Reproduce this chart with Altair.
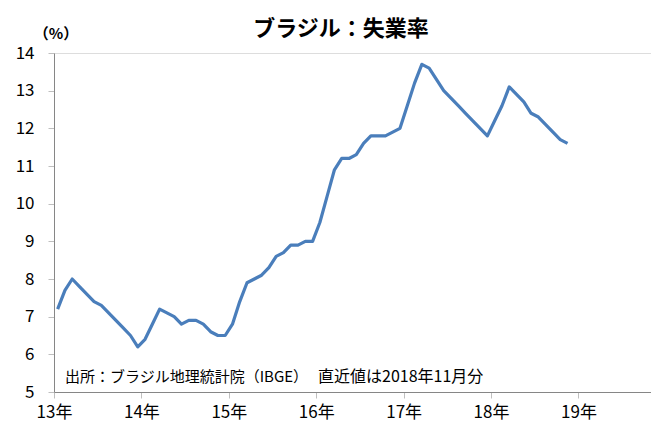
import altair as alt
import pandas as pd

# Monthly unemployment rate (%), Jan 2013 - Nov 2018
years = [2013] * 12 + [2014] * 12 + [2015] * 12 + [2016] * 12 + [2017] * 12 + [2018] * 11
months = list(range(1, 13)) * 5 + list(range(1, 12))
rates = [
    7.2, 7.7, 8.0, 7.8, 7.6, 7.4, 7.3, 7.1, 6.9, 6.7, 6.5, 6.2,
    6.4, 6.8, 7.2, 7.1, 7.0, 6.8, 6.9, 6.9, 6.8, 6.6, 6.5, 6.5,
    6.8, 7.4, 7.9, 8.0, 8.1, 8.3, 8.6, 8.7, 8.9, 8.9, 9.0, 9.0,
    9.5, 10.2, 10.9, 11.2, 11.2, 11.3, 11.6, 11.8, 11.8, 11.8, 11.9, 12.0,
    12.6, 13.2, 13.7, 13.6, 13.3, 13.0, 12.8, 12.6, 12.4, 12.2, 12.0, 11.8,
    12.2, 12.6, 13.1, 12.9, 12.7, 12.4, 12.3, 12.1, 11.9, 11.7, 11.6,
]
year_ticks = [0, 1, 2, 3, 4, 5, 6]
year_labels = ["13年", "14年", "15年", "16年", "17年", "18年", "19年"]
y_ticks = [5, 6, 7, 8, 9, 10, 11, 12, 13, 14]

title_text = "ブラジル：失業率"
unit_text = "（%）"
source_text = "出所：ブラジル地理統計院（IBGE）"
latest_text = "直近値は2018年11月分"

df = pd.DataFrame({"year": years, "month": months, "rate": rates})
df["t"] = (df["year"] - 2013) + (df["month"] - 0.5) / 12.0

FONT = "Noto Sans CJK JP"
W, H = 597, 339
XMAX = 6.83

label_map = "{" + ",".join(f"'{v}':'{l}'" for v, l in zip(year_ticks, year_labels)) + "}"

x_enc = alt.X(
    "t:Q",
    scale=alt.Scale(domain=[0, XMAX], nice=False, zero=False),
    axis=alt.Axis(
        values=year_ticks,
        labelExpr=f"{label_map}[datum.value]",
        title=None,
        grid=False,
        domainColor="#868686",
        domainWidth=1,
        tickColor="#BFBFBF",
        tickSize=6,
        labelFont=FONT,
        labelFontSize=17,
        labelColor="#000000",
        labelPadding=6,
        labelFlush=False,
        labelOverlap=False,
    ),
)
y_enc = alt.Y(
    "rate:Q",
    scale=alt.Scale(domain=[5, 14], nice=False, zero=False),
    axis=alt.Axis(
        values=y_ticks,
        title=None,
        grid=False,
        domainColor="#868686",
        domainWidth=1,
        tickColor="#BFBFBF",
        tickSize=6,
        labelFont=FONT,
        labelFontSize=17,
        labelColor="#000000",
        labelPadding=14,
        labelFlush=False,
        labelOverlap=False,
    ),
)

line = alt.Chart(df).mark_line(color="#4A7EBB", strokeWidth=3.2, strokeJoin="round").encode(
    x=x_enc, y=y_enc
)

def txt(text, x, y, size, weight="normal", align="left"):
    return alt.Chart(pd.DataFrame({"s": [text]})).mark_text(
        font=FONT, fontSize=size, fontWeight=weight, align=align, baseline="middle", color="#000000"
    ).encode(text="s:N", x=alt.value(x), y=alt.value(y))

title = txt(title_text, 287, -24, 22, "bold", "center")
unit = txt(unit_text, 2, -19, 15, "bold", "center")
source = txt(source_text, 11, 324, 15)
latest = txt(latest_text, 264, 324, 16)

chart = alt.layer(line, title, unit, source, latest).properties(
    width=W,
    height=H,
    autosize=alt.AutoSizeParams(type="none"),
    padding={"left": 46, "top": 45, "right": 0, "bottom": 30},
).configure_view(stroke=None).configure(background="white")

chart.save("out.html", embed_options={"renderer": "svg", "actions": False})
